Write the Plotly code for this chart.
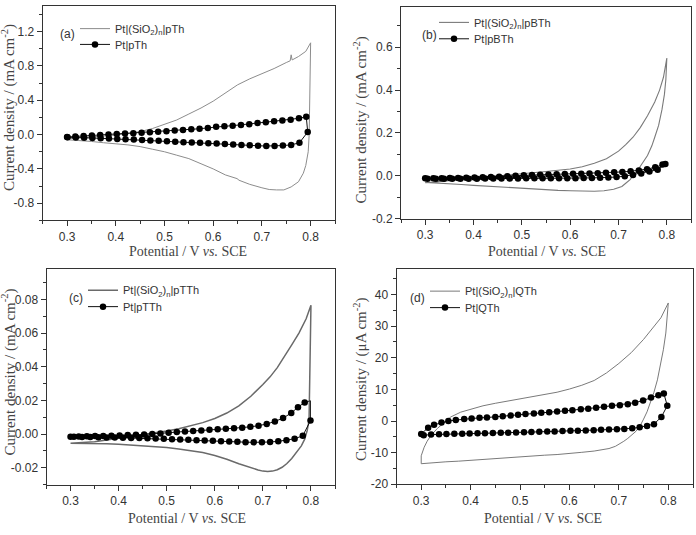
import plotly.graph_objects as go

W, H = 696, 535

# ---------------- data ----------------
# (a) Pt|(SiO2)n|pTh  (mA cm-2)
a_sio2_x = [0.300, 0.325, 0.350, 0.375, 0.400, 0.425, 0.450, 0.475, 0.500, 0.525, 0.550, 0.575,
            0.600, 0.625, 0.650, 0.675, 0.700, 0.725, 0.750, 0.758, 0.760, 0.762, 0.775, 0.790, 0.800,
            0.799, 0.798, 0.797, 0.795, 0.790, 0.785, 0.775, 0.760, 0.745, 0.730, 0.715, 0.700, 0.675,
            0.652, 0.650, 0.625, 0.600, 0.575, 0.550, 0.525, 0.500, 0.475, 0.450, 0.425, 0.400, 0.375,
            0.350, 0.325, 0.300]
a_sio2_y = [-0.050, -0.040, -0.030, -0.018, -0.005, 0.012, 0.035, 0.070, 0.120, 0.170, 0.240, 0.310,
            0.390, 0.480, 0.580, 0.650, 0.710, 0.770, 0.840, 0.860, 0.930, 0.870, 0.910, 0.970, 1.070,
            0.700, 0.300, 0.000, -0.200, -0.360, -0.450, -0.550, -0.610, -0.645, -0.645, -0.640, -0.620,
            -0.580, -0.530, -0.515, -0.470, -0.400, -0.340, -0.280, -0.240, -0.200, -0.170, -0.140,
            -0.120, -0.110, -0.095, -0.080, -0.070, -0.060]
# (a) Pt|pTh
a_pt_fx = [0.300, 0.317, 0.334, 0.351, 0.368, 0.385, 0.402, 0.419, 0.436, 0.453, 0.470, 0.487, 0.504,
           0.521, 0.538, 0.555, 0.572, 0.589, 0.606, 0.623, 0.640, 0.657, 0.674, 0.691, 0.708, 0.725,
           0.742, 0.759, 0.776, 0.791]
a_pt_fy = [-0.028, -0.022, -0.016, -0.010, -0.004, 0.002, 0.008, 0.012, 0.017, 0.021, 0.026, 0.033,
           0.040, 0.047, 0.054, 0.061, 0.068, 0.078, 0.090, 0.097, 0.104, 0.112, 0.122, 0.135, 0.145,
           0.155, 0.163, 0.172, 0.190, 0.208]
a_pt_rx = [0.794, 0.777, 0.760, 0.743, 0.726, 0.709, 0.692, 0.675, 0.658, 0.641, 0.624, 0.607, 0.590,
           0.573, 0.556, 0.539, 0.522, 0.505, 0.488, 0.471, 0.454, 0.437, 0.420, 0.403, 0.386, 0.369,
           0.352, 0.335, 0.318, 0.301]
a_pt_ry = [0.030, -0.095, -0.120, -0.128, -0.132, -0.133, -0.130, -0.125, -0.120, -0.115, -0.110,
           -0.105, -0.100, -0.096, -0.092, -0.088, -0.083, -0.078, -0.073, -0.068, -0.063, -0.058,
           -0.054, -0.050, -0.046, -0.043, -0.040, -0.037, -0.034, -0.031]

# (b) Pt|(SiO2)n|pBTh (mA cm-2)
b_sio2_x = [0.300, 0.325, 0.350, 0.375, 0.400, 0.425, 0.450, 0.475, 0.500, 0.525, 0.550, 0.575, 0.600,
            0.625, 0.650, 0.675, 0.700, 0.715, 0.730, 0.745, 0.760, 0.775, 0.785, 0.793, 0.800,
            0.798, 0.795, 0.790, 0.783, 0.775, 0.769, 0.760, 0.752, 0.745, 0.738, 0.730, 0.724, 0.715,
            0.707, 0.690, 0.670, 0.650, 0.625, 0.600, 0.575, 0.550, 0.525, 0.500, 0.475, 0.450, 0.425,
            0.400, 0.375, 0.350, 0.325, 0.300]
b_sio2_y = [-0.033, -0.028, -0.022, -0.017, -0.012, -0.007, -0.002, 0.004, 0.010, 0.015, 0.020, 0.026,
            0.032, 0.042, 0.058, 0.080, 0.115, 0.145, 0.180, 0.225, 0.280, 0.345, 0.400, 0.460, 0.550,
            0.450, 0.380, 0.310, 0.235, 0.180, 0.140, 0.095, 0.066, 0.040, 0.020, 0.000, -0.018, -0.035,
            -0.050, -0.063, -0.070, -0.072, -0.072, -0.070, -0.068, -0.065, -0.062, -0.060, -0.056,
            -0.052, -0.048, -0.045, -0.041, -0.038, -0.035, -0.031]
# (b) Pt|pBTh
b_pt_fx = [0.300, 0.317, 0.334, 0.351, 0.368, 0.385, 0.402, 0.419, 0.436, 0.453, 0.470, 0.487, 0.504,
           0.521, 0.538, 0.555, 0.572, 0.589, 0.606, 0.623, 0.640, 0.657, 0.674, 0.691, 0.708, 0.725,
           0.742, 0.759, 0.776, 0.791, 0.797]
b_pt_fy = [-0.012, -0.011, -0.011, -0.010, -0.010, -0.009, -0.008, -0.007, -0.006, -0.004, -0.002,
           0.000, 0.002, 0.004, 0.005, 0.006, 0.007, 0.008, 0.009, 0.010, 0.011, 0.012, 0.014, 0.016,
           0.018, 0.021, 0.025, 0.031, 0.040, 0.053, 0.055]
b_pt_rx = [0.781, 0.764, 0.747, 0.730, 0.713, 0.696, 0.679, 0.662, 0.645, 0.628, 0.611, 0.594, 0.577,
           0.560, 0.543, 0.526, 0.509, 0.492, 0.475, 0.458, 0.441, 0.424, 0.407, 0.390, 0.373, 0.356,
           0.339, 0.322, 0.305]
b_pt_ry = [0.028, 0.020, 0.011, 0.004, -0.002, -0.006, -0.008, -0.009, -0.010, -0.010, -0.011, -0.011,
           -0.011, -0.012, -0.012, -0.012, -0.012, -0.013, -0.013, -0.013, -0.013, -0.013, -0.014,
           -0.014, -0.014, -0.014, -0.014, -0.014, -0.014]

# (c) Pt|(SiO2)n|pTTh (mA cm-2)
c_sio2_x = [0.300, 0.325, 0.350, 0.375, 0.400, 0.425, 0.450, 0.475, 0.500, 0.525, 0.550, 0.575, 0.600,
            0.625, 0.650, 0.675, 0.700, 0.715, 0.730, 0.745, 0.760, 0.775, 0.790, 0.800,
            0.799, 0.798, 0.796, 0.792, 0.787, 0.780, 0.770, 0.760, 0.750, 0.740, 0.730, 0.720, 0.710,
            0.700, 0.690, 0.675, 0.650, 0.625, 0.600, 0.575, 0.550, 0.525, 0.500, 0.475, 0.450, 0.425,
            0.400, 0.375, 0.350, 0.325, 0.300]
c_sio2_y = [-0.0055, -0.0050, -0.0045, -0.0035, -0.0025, -0.0015, -0.0005, 0.0005, 0.0018, 0.0032,
            0.0048, 0.0068, 0.0093, 0.0125, 0.0168, 0.0225, 0.0295, 0.0340, 0.0395, 0.0460, 0.0530,
            0.0600, 0.0685, 0.0765,
            0.0500, 0.0200, 0.0080, 0.0020, -0.0030, -0.0070, -0.0110, -0.0145, -0.0175, -0.0197,
            -0.0212, -0.0220, -0.0222, -0.0220, -0.0213, -0.0200, -0.0176, -0.0150, -0.0127, -0.0110,
            -0.0098, -0.0088, -0.0080, -0.0074, -0.0069, -0.0064, -0.0060, -0.0058, -0.0056, -0.0055,
            -0.0054]
# (c) Pt|pTTh
c_pt_fx = [0.300, 0.317, 0.334, 0.351, 0.368, 0.385, 0.402, 0.419, 0.436, 0.453, 0.470, 0.487, 0.504,
           0.521, 0.538, 0.555, 0.572, 0.589, 0.606, 0.623, 0.640, 0.657, 0.674, 0.691, 0.708, 0.725,
           0.742, 0.759, 0.773, 0.787]
c_pt_fy = [-0.0016, -0.0015, -0.0013, -0.0012, -0.0011, -0.0010, -0.0008, -0.0006, -0.0004, -0.0002,
           0.0000, 0.0004, 0.0008, 0.0012, 0.0016, 0.0019, 0.0022, 0.0025, 0.0028, 0.0031, 0.0034,
           0.0038, 0.0043, 0.0050, 0.0060, 0.0075, 0.0095, 0.0125, 0.0160, 0.0188]
c_pt_link_x = [0.787, 0.799, 0.799]
c_pt_link_y = [0.0188, 0.0198, 0.0080]
c_pt_rx = [0.799, 0.783, 0.766, 0.749, 0.732, 0.715, 0.698, 0.681, 0.664, 0.647, 0.630, 0.613, 0.596,
           0.579, 0.562, 0.545, 0.528, 0.511, 0.494, 0.477, 0.460, 0.443, 0.426, 0.409, 0.392, 0.375,
           0.358, 0.341, 0.324, 0.307]
c_pt_ry = [0.0080, -0.0010, -0.0028, -0.0037, -0.0043, -0.0047, -0.0049, -0.0049, -0.0048, -0.0046,
           -0.0044, -0.0042, -0.0040, -0.0038, -0.0036, -0.0034, -0.0032, -0.0030, -0.0028, -0.0026,
           -0.0025, -0.0024, -0.0023, -0.0022, -0.0021, -0.0020, -0.0019, -0.0018, -0.0017, -0.0016]

# (d) Pt|(SiO2)n|QTh (uA cm-2)
d_sio2_x = [0.300, 0.302, 0.306, 0.312, 0.320, 0.333, 0.345, 0.360, 0.380, 0.400, 0.425, 0.450, 0.475,
            0.500, 0.525, 0.550, 0.575, 0.600, 0.625, 0.650, 0.675, 0.700, 0.725, 0.750, 0.770, 0.785,
            0.800,
            0.798, 0.795, 0.790, 0.784, 0.778, 0.771, 0.764, 0.757, 0.750, 0.744, 0.735, 0.727, 0.718,
            0.710, 0.700, 0.693, 0.680, 0.665, 0.650, 0.625, 0.600, 0.575, 0.550, 0.525, 0.500, 0.475,
            0.450, 0.425, 0.400, 0.375, 0.350, 0.325, 0.305, 0.300, 0.300]
d_sio2_y = [-11.0, -10.0, -8.3, -6.4, -4.5, -2.3, -0.6, 1.3, 2.8, 3.8, 4.8, 5.6, 6.3, 7.0, 7.6, 8.3,
            9.1, 10.1, 11.3, 12.8, 15.2, 18.2, 21.6, 25.8, 29.5, 32.6, 37.3,
            33.0, 27.8, 22.5, 17.4, 13.0, 9.1, 5.8, 2.9, 0.6, -1.2, -3.2, -4.4, -5.5, -6.4, -7.3, -8.0,
            -8.7, -9.2, -9.5, -9.9, -10.3, -10.6, -10.8, -11.1, -11.3, -11.6, -11.9, -12.2, -12.4,
            -12.7, -12.9, -13.2, -13.4, -13.5, -11.0]
# (d) Pt|QTh
d_pt_fx = [0.300, 0.314, 0.326, 0.341, 0.355, 0.370, 0.387, 0.402, 0.418, 0.433, 0.450, 0.465, 0.481,
           0.496, 0.511, 0.528, 0.543, 0.559, 0.575, 0.591, 0.606, 0.623, 0.638, 0.654, 0.670, 0.686,
           0.702, 0.718, 0.733, 0.749, 0.765, 0.780, 0.791]
d_pt_fy = [-4.1, -2.1, -1.2, -0.5, 0.0, 0.3, 0.6, 0.8, 1.0, 1.1, 1.3, 1.5, 1.7, 2.0, 2.2, 2.4, 2.6,
           2.8, 3.0, 3.2, 3.4, 3.7, 3.9, 4.2, 4.5, 4.8, 5.0, 5.3, 5.8, 6.5, 7.4, 8.1, 8.7]
d_pt_rx = [0.798, 0.786, 0.771, 0.757, 0.742, 0.727, 0.711, 0.696, 0.680, 0.664, 0.649, 0.633, 0.617,
           0.602, 0.586, 0.570, 0.555, 0.539, 0.523, 0.508, 0.492, 0.476, 0.461, 0.445, 0.429, 0.414,
           0.398, 0.383, 0.367, 0.351, 0.336, 0.320, 0.305]
d_pt_ry = [4.8, 1.3, -1.0, -1.6, -2.0, -2.3, -2.5, -2.6, -2.7, -2.8, -2.9, -3.0, -3.05, -3.1, -3.2,
           -3.3, -3.35, -3.4, -3.5, -3.55, -3.6, -3.7, -3.75, -3.8, -3.85, -3.9, -3.95, -4.0, -4.05,
           -4.1, -4.2, -4.3, -4.5]

x_tick_vals = [0.3, 0.4, 0.5, 0.6, 0.7, 0.8]
x_tick_text = ["0.3", "0.4", "0.5", "0.6", "0.7", "0.8"]
a_ytick_vals = [-0.8, -0.4, 0.0, 0.4, 0.8, 1.2]
a_ytick_text = ["-0.8", "-0.4", "0.0", "0.4", "0.8", "1.2"]
b_ytick_vals = [-0.2, 0.0, 0.2, 0.4, 0.6]
b_ytick_text = ["-0.2", "0.0", "0.2", "0.4", "0.6"]
c_ytick_vals = [-0.02, 0.0, 0.02, 0.04, 0.06, 0.08]
c_ytick_text = ["-0.02", "0.00", "0.02", "0.04", "0.06", "0.08"]
d_ytick_vals = [-20, -10, 0, 10, 20, 30, 40]
d_ytick_text = ["-20", "-10", "0", "10", "20", "30", "40"]

legend_names = {
    "a": ["Pt|(SiO<sub>2</sub>)<sub>n</sub>|pTh", "Pt|pTh"],
    "b": ["Pt|(SiO<sub>2</sub>)<sub>n</sub>|pBTh", "Pt|pBTh"],
    "c": ["Pt|(SiO<sub>2</sub>)<sub>n</sub>|pTTh", "Pt|pTTh"],
    "d": ["Pt|(SiO<sub>2</sub>)<sub>n</sub>|QTh", "Pt|QTh"],
}

# ---------------- style / layout ----------------
SANS = "Liberation Sans, Arial, sans-serif"
SERIF = "Liberation Serif, Times New Roman, serif"
AX = "#333333"

def fx(p):
    return p / W

def fy(p):
    return 1 - p / H

panels = {
    # name: (x0, x1, ytop, ybottom) in pixels
    "a": (42.7, 335.0, 6.0, 223.3),
    "b": (401.0, 691.0, 6.7, 221.5),
    "c": (46.5, 335.0, 272.7, 491.0),
    "d": (396.5, 693.0, 272.7, 490.7),
}
yranges = {"a": [-1.0, 1.5], "b": [-0.2, 0.79], "c": [-0.03, 0.098], "d": [-20, 48]}
yticks = {"a": (a_ytick_vals, a_ytick_text, 0.2), "b": (b_ytick_vals, b_ytick_text, 0.1),
          "c": (c_ytick_vals, c_ytick_text, 0.01), "d": (d_ytick_vals, d_ytick_text, 5)}
ytitles = {"a": "Current density / (mA cm<sup>-2</sup>)", "b": "Current density / (mA cm<sup>-2</sup>)",
           "c": "Current density / (mA cm<sup>-2</sup>)", "d": "Current density / (μA cm<sup>-2</sup>)"}
ytitle_pos = {"a": (8.5, 109), "b": (360, 122), "c": (8.5, 377), "d": (361, 385)}
xtitle_pos = {"a": (188, 255), "b": (546.7, 255), "c": (186.7, 525), "d": (543, 525)}
label_pos = {"a": (67, 34), "b": (429.5, 35), "c": (76, 301.7), "d": (417, 302)}
legend_pos = {"a": (115, 29, 45), "b": (474, 22.7, 39.3), "c": (123, 294, 310.7), "d": (465, 295, 311.7)}
solid_col = {"a": "#8c8c8c", "b": "#7a7a7a", "c": "#6a6a6a", "d": "#7a7a7a"}
solid_w = {"a": 1.0, "b": 1.1, "c": 1.5, "d": 1.0}

data = {
    "a": (a_sio2_x, a_sio2_y, a_pt_fx + a_pt_rx, a_pt_fy + a_pt_ry),
    "b": (b_sio2_x, b_sio2_y, b_pt_fx + b_pt_rx, b_pt_fy + b_pt_ry),
    "c": (c_sio2_x, c_sio2_y, c_pt_fx + [None] + c_pt_rx, c_pt_fy + [None] + c_pt_ry),
    "d": (d_sio2_x, d_sio2_y, d_pt_fx + d_pt_rx, d_pt_fy + d_pt_ry),
}

fig = go.Figure()
layout = dict(width=W, height=H, margin=dict(l=0, r=0, t=0, b=0),
              paper_bgcolor="white", plot_bgcolor="white", showlegend=True,
              annotations=[])

for i, key in enumerate(["a", "b", "c", "d"]):
    n = "" if i == 0 else str(i + 1)
    xa, ya = "x" + n, "y" + n
    x0, x1, yt, yb = panels[key]
    sx, sy, mx, my = data[key]
    lg1 = "legend" if i == 0 else "legend" + str(2 * i + 1)
    lg2 = "legend" + str(2 * i + 2)
    fig.add_trace(go.Scatter(x=sx, y=sy, mode="lines", xaxis=xa, yaxis=ya,
                             line=dict(color=solid_col[key], width=solid_w[key]),
                             name=legend_names[key][0], legend=lg1))
    if key == "c":
        fig.add_trace(go.Scatter(x=c_pt_link_x, y=c_pt_link_y, mode="lines", xaxis=xa, yaxis=ya,
                                 line=dict(color="#222222", width=1), showlegend=False))
    fig.add_trace(go.Scatter(x=mx, y=my, mode="lines+markers", xaxis=xa, yaxis=ya,
                             line=dict(color="#111111", width=1),
                             marker=dict(color="black", size=6.5, line=dict(width=0)),
                             connectgaps=False,
                             name=legend_names[key][1], legend=lg2))

    tv, tt, mdt = yticks[key]
    layout["xaxis" + n] = dict(
        domain=[fx(x0), fx(x1)], anchor=ya, range=[0.25, 0.85],
        tickmode="array", tickvals=x_tick_vals, ticktext=x_tick_text,
        ticks="outside", ticklen=5, tickwidth=1, tickcolor=AX,
        showline=True, linecolor=AX, linewidth=1, mirror=True,
        showgrid=False, zeroline=False,
        tickfont=dict(family=SANS, size=12, color=AX),
        minor=dict(ticks="outside", ticklen=3, tickwidth=1, tickcolor=AX,
                   tickmode="linear", tick0=0.25, dtick=0.05, showgrid=False))
    layout["yaxis" + n] = dict(
        domain=[fy(yb), fy(yt)], anchor=xa, range=yranges[key],
        tickmode="array", tickvals=tv, ticktext=tt,
        ticks="outside", ticklen=5, tickwidth=1, tickcolor=AX,
        showline=True, linecolor=AX, linewidth=1, mirror=True,
        showgrid=False, zeroline=False,
        tickfont=dict(family=SANS, size=12, color=AX),
        minor=dict(ticks="outside", ticklen=3, tickwidth=1, tickcolor=AX,
                   tickmode="linear", tick0=0, dtick=mdt, showgrid=False))

    lx, r1, r2 = legend_pos[key]
    for lg, row in ((lg1, r1), (lg2, r2)):
        layout[lg] = dict(x=fx(lx - 40), y=fy(row), xanchor="left", yanchor="middle",
                          bgcolor="rgba(0,0,0,0)", borderwidth=0,
                          font=dict(family=SANS, size=11, color=AX))

    ax, ay = label_pos[key]
    layout["annotations"].append(dict(
        text="(" + key + ")", x=fx(ax), y=fy(ay), xref="paper", yref="paper",
        showarrow=False, xanchor="center", yanchor="middle",
        font=dict(family=SANS, size=12, color=AX)))
    tx, ty = ytitle_pos[key]
    layout["annotations"].append(dict(
        text=ytitles[key], x=fx(tx), y=fy(ty), xref="paper", yref="paper",
        showarrow=False, xanchor="center", yanchor="middle", textangle=-90,
        font=dict(family=SERIF, size=15, color="#444444")))
    tx, ty = xtitle_pos[key]
    layout["annotations"].append(dict(
        text="Potential / V <i>vs.</i> SCE", x=fx(tx), y=fy(ty), xref="paper", yref="paper",
        showarrow=False, xanchor="center", yanchor="middle",
        font=dict(family=SERIF, size=14, color="#444444")))

fig.update_layout(**layout)
fig.write_html("out.html")
